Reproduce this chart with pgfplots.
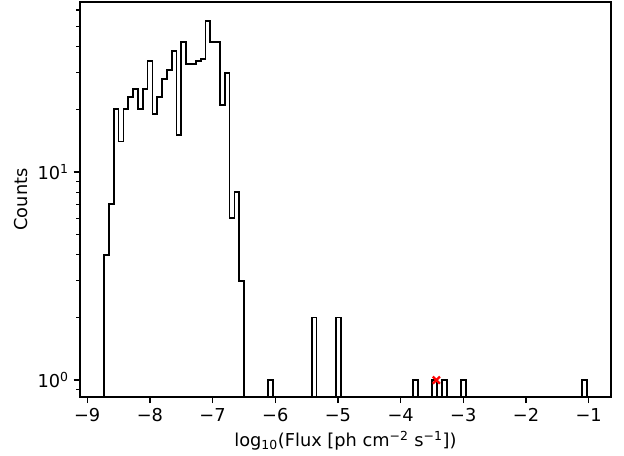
\documentclass[border=0pt]{standalone}
\usepackage{pgfplots}
\pgfplotsset{compat=1.18}
\usepackage{fontspec}
\setmainfont{DejaVu Sans}
\begin{document}
\begin{tikzpicture}[font=\fontsize{12.8}{15.4}\selectfont]
\begin{axis}[
  scale only axis,
  width=382.3pt, height=284.4pt,
  ymode=log,
  xmin=-9.115, xmax=-0.645,
  ymin=0.83, ymax=65.6,
  axis line style={line width=1pt},
  tick align=outside,
  xtick pos=bottom, ytick pos=left,
  major tick length=4.5pt, minor tick length=2.6pt,
  every tick/.style={black, line width=1pt},
  minor tick style={line width=0.8pt},
  xtick={-9,-8,-7,-6,-5,-4,-3,-2,-1},
  xticklabels={−9,−8,−7,−6,−5,−4,−3,−2,−1},
  ytick={1,10},
  yticklabels={10\textsuperscript{0},10\textsuperscript{1}},
  minor ytick={0.9,2,3,4,5,6,7,8,9,20,30,40,50,60},
  xlabel={log\textsubscript{10}(Flux [ph cm\textsuperscript{−2} s\textsuperscript{−1}])},
  ylabel={Counts},
]
\addplot[const plot mark left, black, line width=1.25pt, line join=miter] coordinates {
(-8.730,0.01)
(-8.730,4) (-8.653,7) (-8.576,20) (-8.499,14) (-8.422,20) (-8.345,23)
(-8.268,25) (-8.191,20) (-8.114,25) (-8.037,34) (-7.960,19) (-7.883,23)
(-7.806,28) (-7.729,31) (-7.652,38) (-7.575,15) (-7.498,42) (-7.421,33)
(-7.344,33) (-7.267,34) (-7.190,35) (-7.113,53) (-7.036,42) (-6.959,42)
(-6.882,21) (-6.805,30) (-6.728,6) (-6.651,8) (-6.574,3) (-6.497,0.01)
(-6.112,1) (-6.035,0.01)
(-5.419,2) (-5.342,0.01)
(-5.034,2) (-4.957,0.01)
(-3.802,1) (-3.725,0.01)
(-3.494,1) (-3.417,0.01)
(-3.340,1) (-3.263,0.01)
(-3.032,1) (-2.955,0.01)
(-1.107,1) (-1.030,0.01)
};
\addplot[only marks, mark=x, mark size=3.6pt, red, line width=1.7pt] coordinates {(-3.43,1)};
\end{axis}
\pgfresetboundingbox
\path[use as bounding box] (current axis.south west) ++(-57.6pt,-42.5pt) rectangle ++(449.3pt,328.3pt);
\end{tikzpicture}
\end{document}
